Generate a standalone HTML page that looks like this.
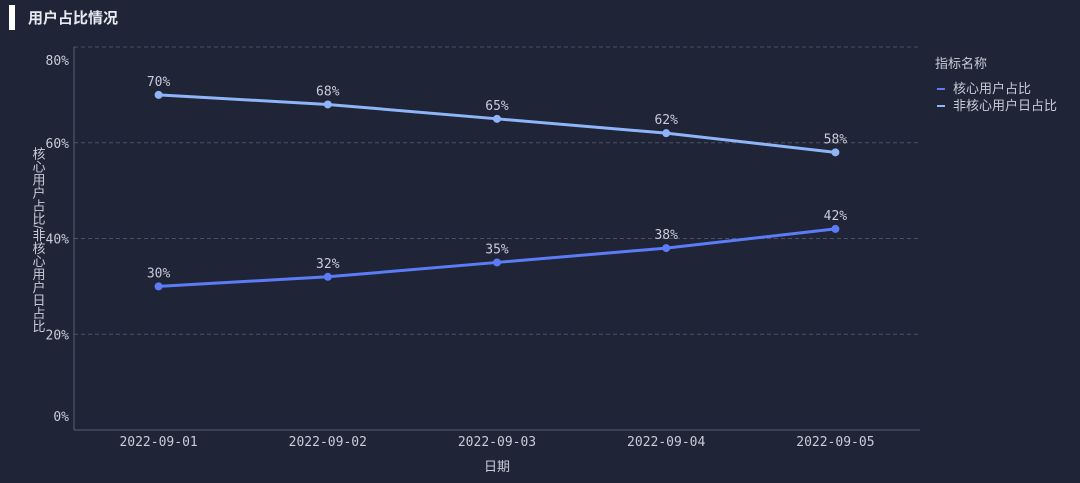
<!DOCTYPE html>
<html><head><meta charset="utf-8"><style>
html,body{margin:0;padding:0;background:#1f2437;}
svg{display:block;}
.mono{font-family:"DejaVu Sans Mono","Liberation Mono",monospace;}
.cjk{font-family:"Liberation Sans","Noto Sans CJK SC",sans-serif;}
</style></head><body>
<svg id="chart" width="1080" height="483" viewBox="0 0 1080 483" xmlns="http://www.w3.org/2000/svg">
<rect width="1080" height="483" fill="#1f2437"/>
<rect x="9" y="5" width="6" height="25" fill="#ffffff"/>
<text x="28" y="23" class="cjk" font-size="15" font-weight="bold" fill="#e8eaf0">用户占比情况</text>
<g>
<text x="935" y="68" class="cjk" font-size="13" fill="#c8ccd6">指标名称</text>
<g><rect x="937" y="88" width="8" height="2" fill="#5b7cf6"/><text x="953" y="93" class="cjk" font-size="13" fill="#c8ccd6">核心用户占比</text></g>
<g><rect x="937" y="105" width="8" height="2" fill="#8fb4f8"/><text x="953" y="110" class="cjk" font-size="13" fill="#c8ccd6">非核心用户日占比</text></g>
</g>
<text transform="translate(38,240)" class="cjk" font-size="13" fill="#c8ccd6" text-anchor="middle" writing-mode="tb" style="writing-mode:vertical-rl;glyph-orientation-vertical:0">核心用户占比/非核心用户日占比</text>
<text x="497" y="471" class="cjk" font-size="13" fill="#c8ccd6" text-anchor="middle">日期</text>
<g id="plot"></g>
</svg>
<script>
const categories = ["2022-09-01","2022-09-02","2022-09-03","2022-09-04","2022-09-05"];
const coreValues = [30, 32, 35, 38, 42];
const nonCoreValues = [70, 68, 65, 62, 58];
const yTicks = [0, 20, 40, 60, 80];
const yTickLabels = ["0%","20%","40%","60%","80%"];

const NS = "http://www.w3.org/2000/svg";
const L = 74, R = 920, T = 47, B = 430, yMax = 80;
const band = (R - L) / categories.length;
const x = i => L + band * (i + 0.5);
const y = v => B - (v / yMax) * (B - T);
const g = document.getElementById("plot");
function mk(tag, attrs, parent) {
  const e = document.createElementNS(NS, tag);
  for (const k in attrs) e.setAttribute(k, attrs[k]);
  (parent || g).appendChild(e);
  return e;
}
yTicks.forEach((t, i) => {
  if (t > 0) {
    const ln = mk("line", {x1: L, x2: R, y1: y(t), y2: y(t), stroke: "#4a5066", "stroke-dasharray": "4 3", "stroke-width": 1});
    
    
  }
  let ly = y(t) + 5;
  if (i === yTicks.length - 1) ly = y(t) + 18;
  if (i === 0) ly = y(t) - 9;
  const tx = mk("text", {x: 69, y: ly, "text-anchor": "end", "font-size": 13, fill: "#c8ccd6", class: "mono"});
  tx.textContent = yTickLabels[i];
  
  
});
const ya = mk("line", {x1: L, x2: L, y1: T, y2: B, stroke: "#5a6075", "stroke-width": 1});


const xa = mk("line", {x1: L, x2: R, y1: B, y2: B, stroke: "#5a6075", "stroke-width": 1});


categories.forEach((c, i) => {
  const tx = mk("text", {x: x(i), y: 446, "text-anchor": "middle", "font-size": 13, fill: "#c8ccd6", class: "mono"});
  tx.textContent = c;
  
  
});
function series(vals, color, name) {
  const p = mk("polyline", {points: vals.map((v, i) => x(i) + "," + y(v)).join(" "), fill: "none", stroke: color, "stroke-width": 3});
  
  
  vals.forEach((v, i) => {
    const c = mk("circle", {cx: x(i), cy: y(v), r: 4, fill: color});
    
    
    const t = mk("text", {x: x(i), y: y(v) - 9, "text-anchor": "middle", "font-size": 13, fill: "#c8ccd6", class: "mono"});
    t.textContent = v + "%";
    
    
  });
}
series(nonCoreValues, "#8fb4f8", "noncore");
series(coreValues, "#5b7cf6", "core");
</script>
</body></html>
